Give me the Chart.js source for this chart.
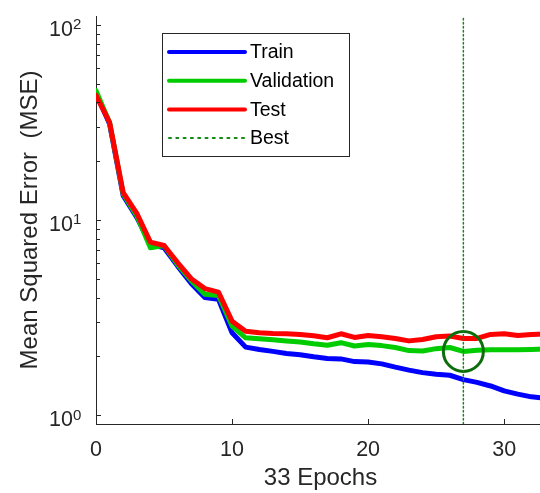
<!DOCTYPE html>
<html>
<head>
<meta charset="utf-8">
<script src="https://cdn.jsdelivr.net/npm/chart.js@4.4.0/dist/chart.umd.min.js"></script>
<style>
  html, body { margin: 0; padding: 0; background: #fff; overflow: hidden; }
  #wrap { width: 545px; height: 493px; }
</style>
</head>
<body>
<div id="wrap"><canvas id="perfChart" width="545" height="493"></canvas></div>
<script>
// performance per epoch
const epochs = [0, 1, 2, 3, 4, 5, 6, 7, 8, 9, 10, 11, 12, 13, 14, 15, 16,
                17, 18, 19, 20, 21, 22, 23, 24, 25, 26, 27, 28, 29, 30, 31, 32, 33];
const train = [44.5, 31, 13.3, 10.3, 7.5, 7.2, 5.8, 4.73, 4.0, 3.92, 2.64, 2.23, 2.17, 2.12, 2.07, 2.04, 1.99,
               1.95, 1.94, 1.88, 1.87, 1.83, 1.76, 1.70, 1.65, 1.62, 1.60, 1.52, 1.47, 1.41, 1.33, 1.28, 1.24, 1.22];
const validation = [46, 31.5, 13.6, 10.5, 7.2, 7.4, 5.9, 4.88, 4.16, 4.1, 2.86, 2.49, 2.46, 2.43, 2.40, 2.37, 2.32,
                    2.28, 2.35, 2.26, 2.30, 2.27, 2.22, 2.14, 2.13, 2.19, 2.22, 2.12, 2.15, 2.16, 2.16, 2.16, 2.17, 2.18];
const test = [43.5, 31.6, 13.8, 10.8, 7.7, 7.4, 6.05, 5.0, 4.45, 4.27, 3.03, 2.69, 2.64, 2.62, 2.61, 2.59, 2.55,
              2.49, 2.61, 2.50, 2.56, 2.52, 2.47, 2.40, 2.44, 2.52, 2.54, 2.47, 2.47, 2.59, 2.61, 2.56, 2.59, 2.60];
const bestEpoch = 27;

const xTicks = [0, 10, 20, 30];
const yTicks = [1, 10, 100];
const yExponents = ['0', '1', '2'];
const yMin = 0.9, yMax = 111;

const AXIS = '#262626';
Chart.defaults.font.family = '"Liberation Sans", Arial, Helvetica, sans-serif';
Chart.defaults.color = AXIS;

const pts = arr => epochs.map((e, i) => ({ x: e, y: arr[i] }));

// matlab style ticks pointing into the plot, plus the 10^n exponents
const inwardTicks = {
  id: 'inwardTicks',
  afterDraw(chart) {
    const { ctx, chartArea: a, scales: { x, y } } = chart;
    ctx.save();
    ctx.strokeStyle = AXIS;
    ctx.lineWidth = 1;
    ctx.beginPath();
    for (let d = -1; d <= 2; d++) {
      for (let m = 1; m <= 9; m++) {
        const v = m * Math.pow(10, d);
        if (v <= y.min || v >= y.max) continue;
        const py = Math.round(y.getPixelForValue(v)) + 0.5;
        ctx.moveTo(a.left, py);
        ctx.lineTo(a.left + (m === 1 ? 5 : 4), py);
      }
    }
    xTicks.forEach(v => {
      const px = Math.round(x.getPixelForValue(v)) + 0.5;
      ctx.moveTo(px, a.bottom);
      ctx.lineTo(px, a.bottom - 5);
    });
    ctx.stroke();
    ctx.fillStyle = AXIS;
    ctx.font = '15px "Liberation Sans", Arial, sans-serif';
    ctx.textAlign = 'left';
    ctx.textBaseline = 'alphabetic';
    yTicks.forEach((v, i) => {
      ctx.fillText(yExponents[i], a.left - 23, y.getPixelForValue(v) + 4.5);
    });
    ctx.restore();
  }
};

// boxed legend inside the axes
const boxLegend = {
  id: 'boxLegend',
  afterDraw(chart) {
    const ctx = chart.ctx;
    const items = chart.data.datasets.filter(d => d.label);
    const left = 162, top = 33, w = 187, h = 123, row = 28.7;
    ctx.save();
    ctx.fillStyle = '#fff';
    ctx.fillRect(left, top, w, h);
    ctx.strokeStyle = AXIS;
    ctx.lineWidth = 1;
    ctx.strokeRect(left + 0.5, top + 0.5, w, h);
    ctx.font = '19.5px "Liberation Sans", Arial, sans-serif';
    ctx.textBaseline = 'middle';
    items.forEach((d, i) => {
      const yy = top + 19 + i * row;
      ctx.beginPath();
      ctx.strokeStyle = d.borderColor;
      if (d.borderDash) {
        ctx.lineWidth = 2;
        ctx.setLineDash([2, 5.3]);
      } else {
        ctx.lineWidth = 4;
        ctx.setLineDash([]);
      }
      ctx.lineCap = 'round';
      ctx.moveTo(left + 7, yy);
      ctx.lineTo(left + 83, yy);
      ctx.stroke();
      ctx.fillStyle = '#000';
      ctx.fillText(d.label, left + 88, yy + 1);
    });
    ctx.restore();
  }
};

new Chart(document.getElementById('perfChart'), {
  type: 'line',
  data: {
    datasets: [
      { label: 'Train', data: pts(train), borderColor: '#0000ff', borderWidth: 5, order: 3 },
      { label: 'Validation', data: pts(validation), borderColor: '#00cc00', borderWidth: 5, order: 2 },
      { label: 'Test', data: pts(test), borderColor: '#ff0000', borderWidth: 5, order: 1 },
      {
        label: 'Best',
        data: [{ x: bestEpoch, y: yMin }, { x: bestEpoch, y: yMax }],
        borderColor: '#108a10', borderWidth: 1.5, borderDash: [1.5, 2.5], order: 0
      },
      {
        label: '',
        data: [{ x: bestEpoch, y: validation[bestEpoch] }],
        showLine: false, pointRadius: 20, pointBorderWidth: 3,
        pointBorderColor: '#0b6e0b', pointBackgroundColor: 'rgba(0,0,0,0)', order: 0
      }
    ]
  },
  options: {
    responsive: false,
    animation: false,
    devicePixelRatio: 1,
    layout: { autoPadding: false, padding: { top: 16, right: 0, bottom: 0, left: 0 } },
    elements: {
      point: { radius: 0, hoverRadius: 0 },
      line: { tension: 0, borderJoinStyle: 'round', borderCapStyle: 'round' }
    },
    plugins: { legend: { display: false }, tooltip: { enabled: false } },
    scales: {
      x: {
        type: 'linear', min: 0, max: 33,
        afterBuildTicks: s => { s.ticks = xTicks.map(v => ({ value: v })); },
        afterFit: s => { s.height = 69; s.paddingLeft = 0; s.paddingRight = 0; },
        grid: { display: false, drawTicks: false },
        border: { display: true, color: AXIS, width: 1 },
        ticks: { color: AXIS, font: { size: 21.5 }, padding: 13, maxRotation: 0, autoSkip: false },
        title: { display: true, text: '33 Epochs', color: AXIS, font: { size: 24 }, padding: { top: 0, bottom: 0 } }
      },
      y: {
        type: 'logarithmic', min: yMin, max: yMax,
        afterBuildTicks: s => { s.ticks = yTicks.map(v => ({ value: v })); },
        afterFit: s => { s.width = 96; s.paddingTop = 0; s.paddingBottom = 0; },
        grid: { display: false, drawTicks: false },
        border: { display: true, color: AXIS, width: 1 },
        ticks: { color: AXIS, font: { size: 21.5 }, padding: 23, labelOffset: 5, autoSkip: false, callback: () => '10' },
        title: {
          display: true, text: 'Mean Squared Error  (MSE)', color: AXIS,
          font: { size: 24 }, padding: { top: 15.6, bottom: 0 }
        }
      }
    }
  },
  plugins: [inwardTicks, boxLegend]
});
</script>
</body>
</html>
